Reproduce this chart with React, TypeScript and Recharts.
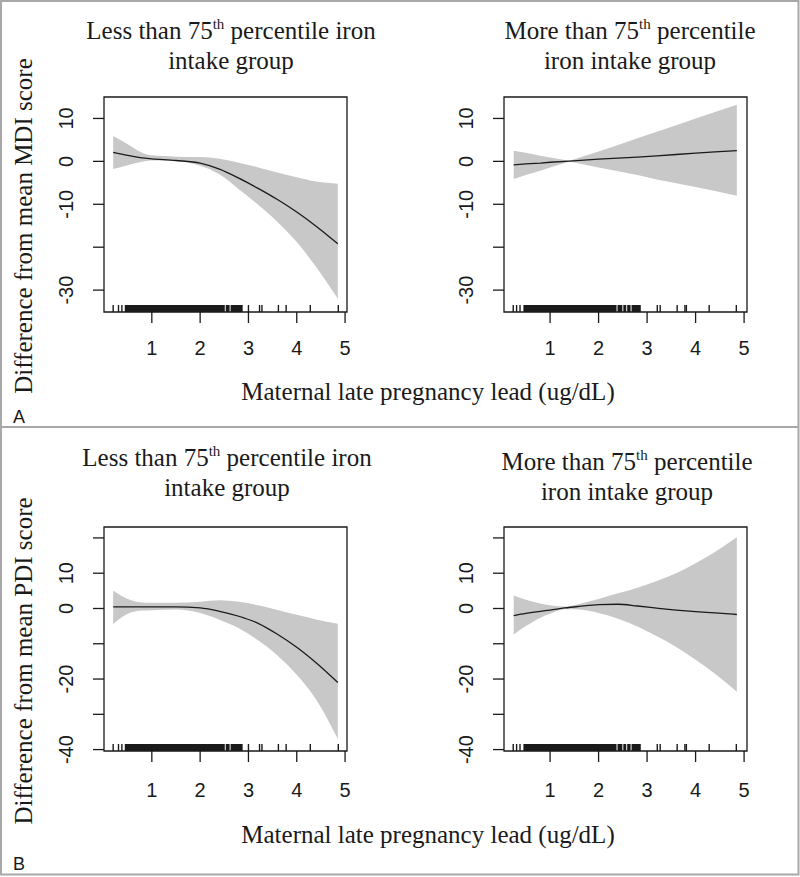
import React from 'react';
import {
  ComposedChart,
  Area,
  Line,
  Scatter,
  XAxis,
  YAxis,
  ReferenceArea,
} from 'recharts';

// x grid of the smooth fits (maternal lead, ug/dL)
const lowX = [0.2, 0.5, 0.8, 1.0, 1.5, 2.0, 2.4, 2.8, 3.2, 3.6, 4.0, 4.4, 4.85];
const highX = [0.25, 0.5, 0.8, 1.0, 1.4, 2.0, 2.4, 2.8, 3.2, 3.6, 4.0, 4.4, 4.85];
const pdiHighX = [0.25, 0.5, 0.8, 1.0, 1.3, 1.6, 2.0, 2.4, 2.8, 3.2, 3.6, 4.0, 4.4, 4.85];

// A: MDI, < 75th percentile iron
const mdiLowFit = [2.1, 1.4, 0.8, 0.6, 0.2, -0.4, -1.8, -3.9, -6.3, -8.9, -11.8, -15.1, -19.2];
const mdiLowUpper = [5.9, 4.0, 2.0, 1.4, 1.1, 1.0, 0.6, -0.3, -1.4, -2.6, -3.7, -4.7, -5.2];
const mdiLowLower = [-1.8, -0.9, -0.1, 0.2, 0.1, -1.0, -3.0, -6.5, -10.1, -14.1, -18.8, -24.6, -32.0];

// A: MDI, > 75th percentile iron
const mdiHighFit = [-0.8, -0.6, -0.4, -0.2, 0.05, 0.5, 0.75, 1.0, 1.3, 1.6, 1.9, 2.2, 2.5];
const mdiHighUpper = [2.5, 2.0, 1.3, 0.9, 0.15, 2.3, 3.8, 5.4, 6.9, 8.4, 10.0, 11.5, 13.2];
const mdiHighLower = [-4.1, -3.2, -2.2, -1.45, -0.05, -1.4, -2.3, -3.2, -4.2, -5.1, -6.0, -6.9, -8.0];

// B: PDI, < 75th percentile iron
const pdiLowFit = [0.45, 0.45, 0.45, 0.45, 0.45, 0.15, -0.8, -2.2, -4.2, -7.3, -11.0, -15.4, -21.0];
const pdiLowUpper = [5.1, 2.7, 1.7, 1.6, 1.6, 1.9, 2.3, 1.9, 0.9, -0.4, -1.8, -3.1, -4.3];
const pdiLowLower = [-4.4, -1.5, -0.6, -0.5, -0.3, -1.3, -3.2, -5.6, -9.0, -13.3, -18.8, -25.8, -37.0];

// B: PDI, > 75th percentile iron
const pdiHighFit = [-2.0, -1.4, -0.8, -0.45, 0.15, 0.6, 1.1, 1.2, 0.7, 0.1, -0.45, -0.9, -1.25, -1.7];
const pdiHighUpper = [3.7, 2.5, 1.4, 0.9, 0.55, 1.3, 2.7, 4.3, 5.9, 7.8, 10.0, 12.8, 16.0, 20.2];
const pdiHighLower = [-7.4, -5.0, -2.6, -1.5, -0.25, -0.3, -1.3, -2.9, -5.1, -7.9, -10.9, -14.5, -18.5, -23.6];

// rug of observed lead values: single ticks and solid runs
const lowRug = [0.2, 0.31, 0.38, 3.0, 3.23, 3.28, 3.62, 3.78, 4.28, 4.86];
const lowRugRuns = [[0.44, 2.51], [2.53, 2.61], [2.63, 2.88]];
const highRug = [0.24, 0.31, 0.38, 3.21, 3.27, 3.62, 3.78, 3.81, 4.28, 4.84];
const highRugRuns = [[0.45, 2.37], [2.39, 2.49], [2.51, 2.57], [2.59, 2.66], [2.68, 2.87]];

const xTicks = [1, 2, 3, 4, 5];
const mdiTicks = [-30, -20, -10, 0, 10];
const mdiTickLabels = ['-30', '', '-10', '0', '10'];
const pdiTicks = [-40, -30, -20, -10, 0, 10, 20];
const pdiTickLabels = ['-40', '', '-20', '', '0', '10', ''];

const INK = '#1a1a1a';
const BAND = '#c8c8c8';
const SERIF = '"Liberation Serif", "Times New Roman", serif';
const SANS = '"Liberation Sans", Arial, sans-serif';

const toRows = (xs: number[], fit: number[], lo: number[], hi: number[]) =>
  xs.map((x, i) => ({ x, fit: fit[i], lo: lo[i], hi: hi[i] }));

const RugTick = (p: any) => (
  <line x1={p.cx} x2={p.cx} y1={p.cy} y2={p.cy - 7} stroke={INK} strokeWidth={1.4} />
);

const RugRun = (p: any) => (
  <rect x={p.x} y={p.y + p.height - 7} width={p.width} height={7} fill={INK} />
);

interface PanelProps {
  left: number;
  top: number;
  height: number;
  plotTop: number;
  plotBottom: number;
  rows: { x: number; fit: number; lo: number; hi: number }[];
  xDomain: [number, number];
  yDomain: [number, number];
  yTicks: number[];
  yLabels: string[];
  rug: number[];
  runs: number[][];
  curve: 'monotone' | 'linear';
  labelDrop: number;
}

function Panel(props: PanelProps) {
  const { left, top, height, plotTop, plotBottom, rows, xDomain, yDomain, yTicks, yLabels, rug, runs, curve, labelDrop } = props;
  const axisH = 30;
  const axisW = 30;
  const rugPts = rug.map((x) => ({ x, y: yDomain[0] }));

  return (
    <div style={{ position: 'absolute', left, top }}>
      <ComposedChart
        width={400}
        height={height}
        data={rows}
        margin={{ top: plotTop, right: 53, bottom: height - plotBottom - axisH, left: 104 - axisW }}
      >
        <XAxis
          dataKey="x"
          type="number"
          domain={xDomain}
          ticks={xTicks}
          allowDataOverflow
          height={axisH}
          axisLine={false}
          tickSize={11}
          tickMargin={labelDrop - 11}
          tickLine={{ stroke: INK, strokeWidth: 1.3 }}
          interval={0}
          tick={(t: any) => (
            <text x={t.x} y={t.y} textAnchor="middle" fontFamily={SANS} fontSize={20} fill={INK}>
              {t.payload.value}
            </text>
          )}
        />
        <YAxis
          type="number"
          domain={yDomain}
          ticks={yTicks}
          allowDataOverflow
          width={axisW}
          axisLine={false}
          tickSize={11}
          tickMargin={20}
          tickLine={{ stroke: INK, strokeWidth: 1.3 }}
          interval={0}
          tick={(t: any) => (
            <text
              transform={`translate(${t.x},${t.y}) rotate(-90)`}
              textAnchor="middle"
              fontFamily={SANS}
              fontSize={20}
              fill={INK}
            >
              {yLabels[yTicks.indexOf(t.payload.value)]}
            </text>
          )}
        />
        <Area
          dataKey={(d: any) => [d.lo, d.hi]}
          type={curve}
          stroke="none"
          fill={BAND}
          fillOpacity={1}
          isAnimationActive={false}
        />
        <Line dataKey="fit" type={curve} stroke={INK} strokeWidth={1.3} dot={false} isAnimationActive={false} />
        {runs.map(([a, b], i) => (
          <ReferenceArea key={i} x1={a} x2={b} y1={yDomain[0]} y2={yDomain[1]} shape={RugRun} />
        ))}
        <Scatter data={rugPts} dataKey="y" shape={RugTick} isAnimationActive={false} />
        <ReferenceArea
          x1={xDomain[0]}
          x2={xDomain[1]}
          y1={yDomain[0]}
          y2={yDomain[1]}
          fill="none"
          stroke={INK}
          strokeWidth={1.3}
        />
      </ComposedChart>
    </div>
  );
}

function Title({ x, y, first, rest, second }: { x: number; y: number; first: string; rest: string; second: string }) {
  return (
    <g fontFamily={SERIF} fontSize={25} fill={INK} textAnchor="middle">
      <text x={x} y={y}>
        {first}
        <tspan dy={-10} fontSize={15}>th</tspan>
        <tspan dy={10}>{rest}</tspan>
      </text>
      <text x={x} y={y + 30}>{second}</text>
    </g>
  );
}

export default function App() {
  return (
    <div style={{ position: 'absolute', left: 0, top: 0, width: 800, height: 877, background: '#fff' }}>
      <Panel
        left={0} top={0} height={427} plotTop={97} plotBottom={312}
        rows={toRows(lowX, mdiLowFit, mdiLowLower, mdiLowUpper)}
        xDomain={[0.01, 5.04]} yDomain={[-35.1, 15]}
        yTicks={mdiTicks} yLabels={mdiTickLabels}
        rug={lowRug} runs={lowRugRuns} curve="monotone" labelDrop={43}
      />
      <Panel
        left={400} top={0} height={427} plotTop={97} plotBottom={312}
        rows={toRows(highX, mdiHighFit, mdiHighLower, mdiHighUpper)}
        xDomain={[0.05, 5.06]} yDomain={[-35.1, 15]}
        yTicks={mdiTicks} yLabels={mdiTickLabels}
        rug={highRug} runs={highRugRuns} curve="linear" labelDrop={43}
      />
      <Panel
        left={0} top={427} height={450} plotTop={100} plotBottom={324}
        rows={toRows(lowX, pdiLowFit, pdiLowLower, pdiLowUpper)}
        xDomain={[0.01, 5.04]} yDomain={[-40.4, 23.1]}
        yTicks={pdiTicks} yLabels={pdiTickLabels}
        rug={lowRug} runs={lowRugRuns} curve="monotone" labelDrop={46}
      />
      <Panel
        left={400} top={427} height={450} plotTop={100} plotBottom={324}
        rows={toRows(pdiHighX, pdiHighFit, pdiHighLower, pdiHighUpper)}
        xDomain={[0.05, 5.06]} yDomain={[-40.4, 23.1]}
        yTicks={pdiTicks} yLabels={pdiTickLabels}
        rug={highRug} runs={highRugRuns} curve="monotone" labelDrop={46}
      />
      <svg width={800} height={877} style={{ position: 'absolute', left: 0, top: 0, pointerEvents: 'none' }}>
        <rect x={1} y={1} width={797.5} height={873.5} fill="none" stroke="#a8a8a8" strokeWidth={2} />
        <line x1={1} x2={798.5} y1={427} y2={427} stroke="#a8a8a8" strokeWidth={2} />

        <Title x={231} y={39} first="Less than 75" rest=" percentile iron" second="intake group" />
        <Title x={630} y={39} first="More than 75" rest=" percentile" second="iron intake group" />
        <Title x={227} y={466} first="Less than 75" rest=" percentile iron" second="intake group" />
        <Title x={627} y={470} first="More than 75" rest=" percentile" second="iron intake group" />

        <g fontFamily={SERIF} fontSize={25} fill={INK} textAnchor="middle">
          <text x={428} y={400}>Maternal late pregnancy lead (ug/dL)</text>
          <text x={428} y={843}>Maternal late pregnancy lead (ug/dL)</text>
          <text transform="translate(32,226) rotate(-90)">Difference from mean MDI score</text>
          <text transform="translate(32,661) rotate(-90)">Difference from mean PDI score</text>
        </g>
        <g fontFamily={SANS} fontSize={18} fill={INK}>
          <text x={13} y={423}>A</text>
          <text x={13} y={870}>B</text>
        </g>
      </svg>
    </div>
  );
}
